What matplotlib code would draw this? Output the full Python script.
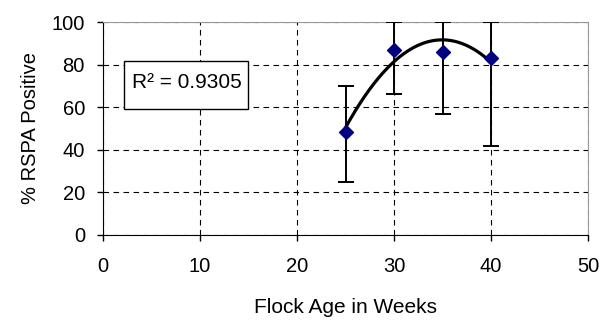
import numpy as np
import matplotlib
matplotlib.use("Agg")
import matplotlib.pyplot as plt
from matplotlib.patches import Rectangle

plt.rcParams['font.family'] = ['Liberation Sans', 'DejaVu Sans']

# data
weeks = [25, 30, 35, 40]
pct_pos = [48.5, 87.0, 86.0, 83.0]
err_low = [25.0, 66.0, 57.0, 42.0]
err_high = [70.0, 100.0, 100.0, 100.0]
r2_text = "R² = 0.9305"

x = np.array(weeks)
y = np.array(pct_pos)
yerr = [y - np.array(err_low), np.array(err_high) - y]

fig = plt.figure(figsize=(6.13, 3.22), dpi=100)
ax = fig.add_axes([103 / 613, 1 - 235 / 322, 485 / 613, 213 / 322])

# polynomial trend line (order 2)
coef = np.polyfit(x, y, 2)
xs = np.linspace(x.min(), x.max(), 200)
ax.plot(xs, np.polyval(coef, xs), color="black", lw=2.3, zorder=3)

ax.errorbar(x, y, yerr=yerr, fmt="none", ecolor="black", elinewidth=1.4,
            capsize=6, capthick=1.4, zorder=4)
ax.scatter(x, y, marker="D", s=50, color="#000080", zorder=5)

ax.set_xlim(0, 50)
ax.set_ylim(0, 100)
ax.set_xticks(range(0, 51, 10))
ax.set_yticks(range(0, 101, 20))
ax.grid(True, color="black", linestyle=(0, (5, 4)), lw=0.8)
ax.tick_params(direction="out", length=4, width=1, labelsize=14.5)
ax.tick_params(axis="x", pad=12)
ax.tick_params(axis="y", pad=9)

for s in ["top", "right"]:
    ax.spines[s].set_color("#999999")
for s in ["left", "bottom"]:
    ax.spines[s].set_color("black")

ax.set_xlabel("Flock Age in Weeks", fontsize=15, labelpad=16)
ax.set_ylabel("% RSPA Positive", fontsize=14.5, labelpad=8)

# R² box
ax.add_patch(Rectangle((2.16, 59.2), 12.8, 22.5, fc="white", ec="black",
                       lw=1, zorder=6))
ax.text(8.6, 71.8, r2_text, fontsize=15, ha="center", va="center", zorder=7)

fig.savefig("out.png", dpi=100)
